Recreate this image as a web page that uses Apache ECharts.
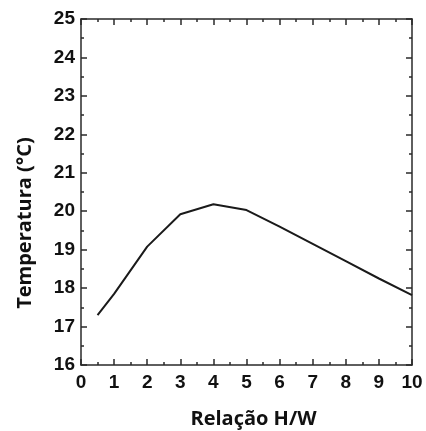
<!DOCTYPE html>
<html><head><meta charset="utf-8">
<script src="https://cdn.jsdelivr.net/npm/echarts@6/dist/echarts.min.js"></script>
<style>html,body{margin:0;padding:0;background:#fff}#c{width:426px;height:431px}</style>
</head><body><div id="c"></div>
<script>
const xValues = [0.5, 1, 2, 3, 4, 5, 6, 7, 8, 9, 10];
const temperature = [17.3, 17.85, 19.08, 19.92, 20.18, 20.03, 19.6, 19.15, 18.7, 18.25, 17.82];
const xName = 'Relação H/W';
const yName = 'Temperatura (°C)';

const chart = echarts.init(document.getElementById('c'));
const axisCol = '#2a2a2a';
const lblFont = {fontFamily: 'Liberation Sans', fontWeight: 'bold', fontSize: 19, color: '#111'};
const nameFontX = {fontFamily: 'Open Sans', fontWeight: 'bold', fontSize: 20, color: '#111', padding: [0, 0, 0, 14]};
const nameFontY = {fontFamily: 'Open Sans', fontWeight: 'bold', fontSize: 20, color: '#111', padding: [0, 62, 0, 0]};
const baseX = {
  type: 'value', min: 0, max: 10, interval: 1,
  axisLine: {show: true, onZero: false, lineStyle: {color: axisCol, width: 1.5}},
  axisTick: {show: true, inside: true, length: 6, lineStyle: {color: axisCol, width: 1.5}},
  minorTick: {show: true, splitNumber: 2, length: 3, lineStyle: {color: axisCol, width: 1.5}},
  splitLine: {show: false}
};
const baseY = {
  type: 'value', min: 16, max: 25, interval: 1,
  axisLine: {show: true, onZero: false, lineStyle: {color: axisCol, width: 1.5}},
  axisTick: {show: true, inside: true, length: 6, lineStyle: {color: axisCol, width: 1.5}},
  minorTick: {show: true, splitNumber: 2, length: 3, lineStyle: {color: axisCol, width: 1.5}},
  splitLine: {show: false}
};
chart.setOption({
  animation: false,
  grid: {left: 81, right: 14, top: 19, bottom: 66, outerBoundsMode: 'none', containLabel: false},
  xAxis: [
    Object.assign({}, baseX, {position: 'bottom', name: xName, nameLocation: 'middle', nameGap: 44, nameTextStyle: nameFontX,
      axisLabel: Object.assign({margin: 8}, lblFont)}),
    Object.assign({}, baseX, {position: 'top', axisLabel: {show: false}})
  ],
  yAxis: [
    Object.assign({}, baseY, {position: 'left', name: yName, nameLocation: 'middle', nameGap: 46, nameTextStyle: nameFontY,
      axisLabel: Object.assign({margin: 6}, lblFont)}),
    Object.assign({}, baseY, {position: 'right', axisLabel: {show: false}})
  ],
  series: [{
    type: 'line', xAxisIndex: 0, yAxisIndex: 0,
    data: xValues.map((x, i) => [x, temperature[i]]),
    showSymbol: false, lineStyle: {color: '#1a1a1a', width: 2}
  }]
});
</script></body></html>
